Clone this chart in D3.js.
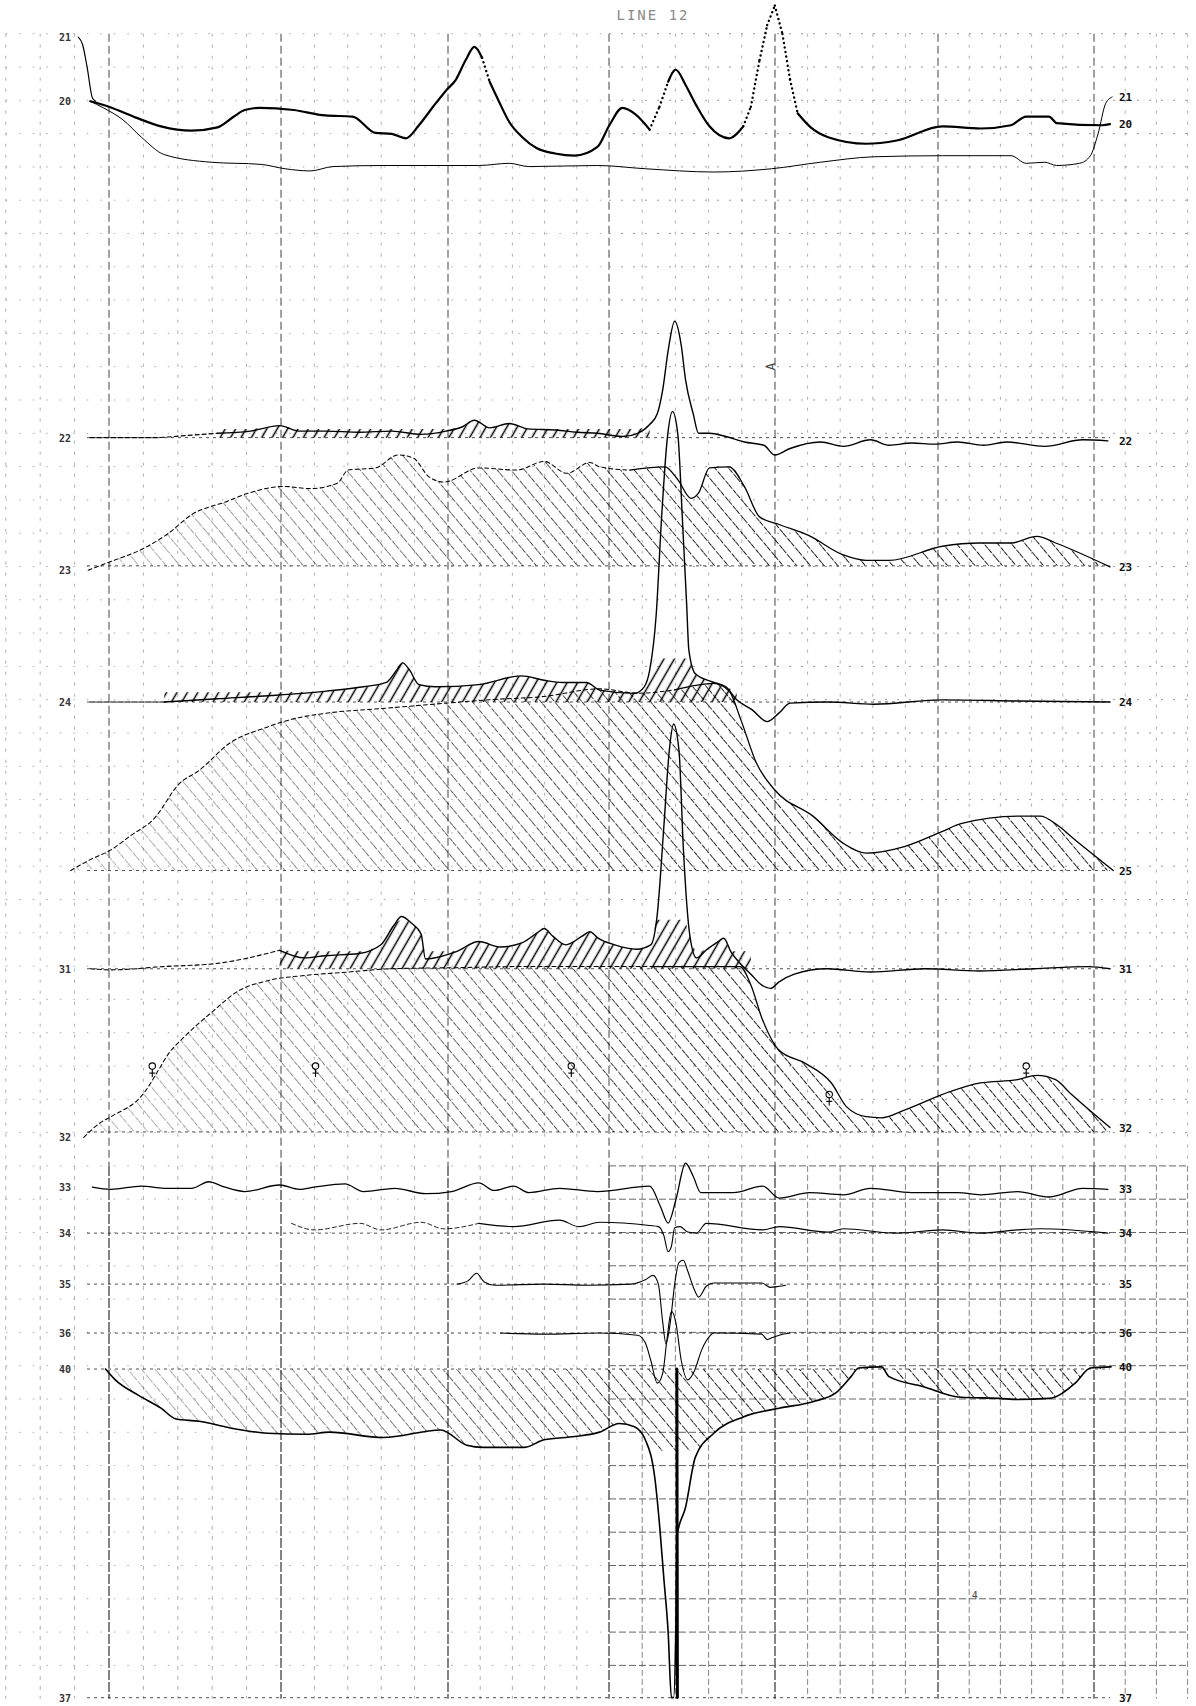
<!DOCTYPE html>
<html>
<head>
<meta charset="utf-8">
<script src="https://cdn.jsdelivr.net/npm/d3@7"></script>
<style>
body { margin: 0; background: #fff; }
svg { display: block; }
.lbl { font-family: "DejaVu Sans Mono", monospace; font-size: 11px; font-weight: bold; fill: #111; }
.lbl.l { fill: #333; font-size: 10px; }
.title { font-family: "DejaVu Sans Mono", monospace; font-size: 14px; fill: #8a8a8a; letter-spacing: 2px; }
.stray { font-family: "DejaVu Sans Mono", monospace; font-size: 10px; fill: #444; }
</style>
</head>
<body>
<svg id="chart"></svg>
<script>
const W = 1196, H = 1706;

// profiles, [fiducial, amplitude] pairs, amplitude measured from the trace level
const prof21 = [[72,59],[76,52],[80,32],[85,3],[88,0]];
const prof20 = [[83,0],[100,-5],[125,-15],[148,-23],[176,-27],[200,-24],[215,-14],[225,-8],[239,-6],[270,-8],[299,-13],[324,-14],[345,-29],[360,-30],[373,-34],[385,-22],[398,-5],[410,10],[419,20],[428,38],[436,50],[443,40],[450,18],[458,1],[468,-19],[480,-33],[493,-43],[510,-48],[528,-50],[549,-42],[560,-22],[572,-6],[584,-12],[597,-26],[606,-5],[614,18],[621,29],[630,15],[640,-4],[652,-23],[670,-34],[683,-23],[690,-5],[698,38],[705,70],[712,88],[719,62],[726,20],[733,-11],[745,-24],[761,-33],[796,-39],[824,-36],[866,-23],[901,-25],[929,-22],[943,-14],[964,-14],[971,-20],[1013,-22],[1020,-21]];
const prof20b = [[83,0],[95,-6],[113,-17],[130,-33],[151,-49],[194,-56],[240,-58],[262,-62],[285,-64],[306,-60],[352,-59],[440,-59],[468,-57],[486,-60],[549,-59],[593,-62],[656,-65],[709,-62],[754,-56],[803,-51],[866,-50],[929,-50],[943,-57],[960,-56],[971,-59],[992,-57],[1002,-50],[1009,-30],[1016,-2],[1022,4]];
const prof22 = [[83,0],[141,0],[172,2],[200,4],[230,6],[257,11],[275,6],[300,6],[330,5],[360,6],[387,3],[410,6],[425,10],[436,16],[450,9],[468,13],[485,8],[511,7],[530,5],[549,4],[572,1],[586,4],[597,12],[604,22],[609,44],[614,80],[620,107],[626,85],[630,53],[637,22],[642,4],[652,4],[667,1],[684,-4],[702,-7],[712,-16],[726,-10],[754,-4],[775,-8],[800,-2],[817,-7],[838,-5],[859,-6],[880,-4],[904,-7],[925,-4],[960,-8],[995,-2],[1018,-3]];
const prof23 = [[81,-4],[102,4],[130,15],[155,30],[176,47],[208,59],[229,67],[261,73],[285,71],[310,76],[320,88],[345,90],[366,102],[380,99],[394,82],[408,77],[440,90],[475,88],[500,96],[521,85],[542,95],[551,91],[579,88],[611,91],[623,79],[635,62],[642,67],[652,90],[670,91],[684,73],[698,45],[716,38],[743,28],[775,10],[796,5],[817,5],[866,18],[900,21],[929,21],[953,27],[970,21],[1020,-1]];
const prof24 = [[83,0],[151,0],[200,3],[250,6],[300,10],[334,14],[355,18],[365,30],[370,36],[376,30],[385,16],[400,14],[440,16],[479,24],[500,20],[517,18],[539,18],[551,11],[583,8],[592,14],[597,29],[603,80],[608,170],[613,240],[618,267],[623,245],[627,170],[631,90],[633,48],[639,26],[656,18],[667,14],[677,2],[691,-7],[705,-18],[716,-10],[726,-1],[761,0],[803,-2],[866,2],[935,1],[1020,0]];
const prof25 = [[65,0],[83,10],[102,19],[120,32],[141,47],[165,80],[183,92],[211,117],[246,132],[268,139],[303,145],[352,149],[400,153],[450,157],[500,160],[551,167],[586,163],[620,166],[656,172],[670,165],[681,138],[695,99],[712,74],[747,50],[775,25],[796,16],[831,22],[866,36],[883,43],[935,50],[956,50],[970,43],[988,28],[1023,0]];
const prof31 = [[83,0],[102,-1],[150,2],[200,5],[257,17],[280,10],[299,12],[330,14],[350,22],[362,40],[369,48],[378,42],[387,32],[391,9],[420,16],[440,25],[460,20],[480,24],[495,34],[500,37],[508,30],[520,22],[535,30],[542,34],[550,28],[565,22],[585,18],[598,22],[604,50],[610,130],[615,200],[619,225],[624,200],[628,110],[634,30],[640,10],[650,18],[660,25],[665,28],[672,15],[680,5],[690,-5],[700,-15],[708,-18],[716,-12],[730,-5],[760,0],[800,-3],[850,0],[900,-2],[950,0],[1000,2],[1020,0]];
const prof32 = [[77,-5],[93,9],[102,14],[134,38],[144,54],[155,72],[169,87],[197,112],[218,129],[246,139],[282,144],[320,147],[360,150],[420,151],[480,152],[540,152],[600,152],[650,152],[680,152],[690,135],[700,105],[716,75],[740,63],[764,45],[778,23],[796,14],[810,13],[831,20],[873,37],[901,45],[935,48],[953,52],[970,48],[984,35],[1020,4]];
const prof33 = [[85,4],[102,2],[130,5],[151,3],[176,3],[192,9],[204,5],[225,0],[257,6],[275,2],[289,4],[317,7],[334,0],[363,3],[391,-2],[415,0],[440,8],[454,1],[472,5],[486,-1],[514,3],[549,0],[597,5],[607,-14],[614,-29],[621,-8],[630,26],[637,14],[644,-1],[674,-1],[701,5],[716,-6],[744,-1],[775,-3],[800,3],[838,-1],[880,-1],[901,-3],[935,0],[964,-5],[995,3],[1018,2]];
const prof34 = [[268,9],[289,3],[331,9],[350,3],[387,10],[408,4],[440,9],[472,6],[514,12],[532,6],[551,10],[597,7],[605,6],[610,-2],[614,-17],[617,-12],[620,5],[625,6],[632,1],[640,0],[649,9],[701,3],[716,6],[761,1],[775,4],[824,0],[866,3],[901,0],[935,3],[956,4],[1018,0]];
const prof35 = [[420,0],[430,3],[438,10],[445,2],[455,-1],[500,0],[540,-1],[580,0],[593,4],[600,8],[605,0],[609,-35],[612,-55],[616,-35],[620,0],[624,20],[628,22],[632,12],[638,-5],[642,-12],[649,-2],[656,1],[700,1],[708,-3],[716,-2],[722,-1]];
const prof36 = [[460,0],[500,-1],[550,0],[586,-2],[593,-9],[598,-25],[604,-46],[609,-37],[613,-5],[617,20],[621,10],[626,-25],[632,-43],[638,-35],[645,-15],[652,-3],[656,0],[700,-1],[705,-6],[710,-4],[716,-2],[726,0]];
const prof40 = [[97,0],[106,-10],[127,-24],[148,-36],[162,-46],[183,-48],[211,-54],[246,-59],[282,-60],[303,-58],[352,-63],[405,-56],[429,-70],[444,-72],[482,-72],[500,-65],[528,-62],[551,-58],[569,-50],[583,-53],[593,-65],[602,-102],[606,-142],[610,-192],[614,-242],[617,-302],[619,-302],[621,-242],[622,-154],[630,-127],[639,-81],[656,-59],[683,-44],[716,-36],[747,-30],[768,-22],[782,-7],[789,1],[810,2],[817,-7],[848,-16],[883,-26],[918,-27],[935,-28],[964,-27],[988,-13],[1002,1],[1021,2]];
const pen40 = [[622,0],[622.5,-302]];

// trace levels in grid rows
const levels = { l20: 1.03, l22: 11.13, l23: 14.98, l24: 19.07, l25: 24.13, l31: 27.08, l32: 31.98,
  l33: 33.77, l34: 35.02, l35: 36.55, l36: 38.02, l40: 39.1, l37: 48.97 };

// station marks on 32: [fiducial, amplitude]
const markers32 = [[140,55],[290,55],[525,55],[762,29],[943,55]];
const titleText = "LINE 12";

// grid: major chart-paper columns, as scanned
const majorCols = [3, 8, 13, 18, 23, 28, 33];
const majorColPx = [109, 281, 448, 609, 775, 938, 1094];

const traces = [
  { data: prof20, level: levels.l20, width: 2.2, dotSteep: true, left: "20", right: "20" },
  { data: prof20b, level: levels.l20, width: 1, right: "21" },
  { data: prof21, level: levels.l20, width: 1.2, left: "21" },
  { data: prof22, level: levels.l22, width: 1.4, hatch: "fwd", band: [200, 600, 8], cap: [-99, 30], dashUntil: 190, left: "22", right: "22", base: true },
  { data: prof23, level: levels.l23, width: 1.3, hatch: "back", dashUntil: 560, left: "23", right: "23", base: true },
  { data: prof24, level: levels.l24, width: 1.4, hatch: "fwd", band: [150, 680, 9], cap: [-99, 40], dashUntil: 150, left: "24", right: "24", base: true },
  { data: prof25, level: levels.l25, width: 1.3, hatch: "back", dashUntil: 600, right: "25", base: true },
  { data: prof31, level: levels.l31, width: 1.4, hatch: "fwd", band: [240, 690, 16], cap: [-99, 45], dashUntil: 240, left: "31", right: "31", base: true },
  { data: prof32, level: levels.l32, width: 1.3, hatch: "back", dashUntil: 560, left: "32", right: "32", base: true },
  { data: prof33, level: levels.l33, width: 1.3, left: "33", right: "33" },
  { data: prof34, level: levels.l34, width: 1.1, dashUntil: 420, left: "34", right: "34", base: true },
  { data: prof35, level: levels.l35, width: 1.1, left: "35", right: "35", base: true },
  { data: prof36, level: levels.l36, width: 1.1, left: "36", right: "36", base: true },
  { data: prof40, level: levels.l40, width: 1.6, hatch: "back", cap: [-75, 999], left: "40", right: "40", base: true },
  { data: pen40, level: levels.l40, width: 3 },
  { data: [], level: levels.l37, left: "37", right: "37", base: true }
];

const svg = d3.select("#chart").attr("width", W).attr("height", H);
svg.append("rect").attr("width", W).attr("height", H).attr("fill", "#fff");

const x = d3.scaleLinear().domain([80, 1020]).range([87, 1110]);
const row = d3.scaleLinear().domain([0, 49]).range([67, 67 + 49 * 33.3]);
const amp = d3.scaleLinear().domain([0, 100]).range([0, 108.8]);
const gx = d3.scaleLinear().domain(majorCols).range(majorColPx);
const yOf = (lvl, v) => row(lvl) - amp(v);

// hatch patterns
const defs = svg.append("defs");
function hatch(id, angle, gap, sw, dash) {
  const p = defs.append("pattern").attr("id", id)
    .attr("patternUnits", "userSpaceOnUse")
    .attr("width", gap).attr("height", 12)
    .attr("patternTransform", `rotate(${angle})`);
  p.append("line").attr("x1", gap / 2).attr("y1", 0).attr("x2", gap / 2).attr("y2", 12)
    .attr("stroke", "#000").attr("stroke-width", sw).attr("stroke-dasharray", dash);
}
hatch("back", -40, 10.5, 0.9, "5,1.5");
hatch("fwd", 30, 9, 1.5, null);

const grad = defs.append("linearGradient").attr("id", "fadeGrad")
  .attr("gradientUnits", "userSpaceOnUse").attr("x1", x(80)).attr("x2", x(700)).attr("y1", 0).attr("y2", 0);
grad.append("stop").attr("offset", 0).attr("stop-color", "#fff").attr("stop-opacity", 0.3);
grad.append("stop").attr("offset", 1).attr("stop-color", "#fff").attr("stop-opacity", 1);
defs.append("mask").attr("id", "fade").attr("maskUnits", "userSpaceOnUse")
  .attr("x", 0).attr("y", 0).attr("width", W).attr("height", H)
  .append("rect").attr("width", W).attr("height", H).attr("fill", "url(#fadeGrad)");

// grid
const grid = svg.append("g");
const cols = d3.range(0, 37);
const isMajor = k => k % 5 === 3;
const splitRow = 33, splitCol = 18;
// upper part of the sheet, light
grid.selectAll("line.vu").data(cols).join("line")
  .attr("x1", d => gx(d)).attr("x2", d => gx(d))
  .attr("y1", row(-1)).attr("y2", row(splitRow))
  .attr("stroke", d => isMajor(d) ? "#555" : "#9a9a9a")
  .attr("stroke-width", d => isMajor(d) ? 1.1 : 0.8)
  .attr("stroke-dasharray", d => isMajor(d) ? "8,4" : "3,8");
// lower part, right side darker
grid.selectAll("line.vl").data(cols).join("line")
  .attr("x1", d => gx(d)).attr("x2", d => gx(d))
  .attr("y1", row(splitRow)).attr("y2", row(49))
  .attr("stroke", d => isMajor(d) ? "#333" : (d >= splitCol ? "#666" : "#999"))
  .attr("stroke-width", d => isMajor(d) ? 1.2 : 0.8)
  .attr("stroke-dasharray", d => isMajor(d) ? "10,2" : (d >= splitCol ? "6,3" : "4,6"));
const rows = d3.range(-1, 49);
grid.selectAll("line.hl").data(rows).join("line")
  .attr("x1", gx(0)).attr("x2", gx(splitCol))
  .attr("y1", d => row(d)).attr("y2", d => row(d))
  .attr("stroke", "#aaa").attr("stroke-width", 1)
  .attr("stroke-dasharray", "1.5,12");
grid.selectAll("line.hr").data(rows).join("line")
  .attr("x1", gx(splitCol)).attr("x2", gx(36))
  .attr("y1", d => row(d)).attr("y2", d => row(d))
  .attr("stroke", d => d >= splitRow ? "#555" : "#999")
  .attr("stroke-width", d => d >= splitRow ? 0.9 : 1)
  .attr("stroke-dasharray", d => d >= splitRow ? "7,3" : "2,10");

const plot = svg.append("g");

// hatch fills
traces.filter(t => t.hatch).forEach(t => {
  const inBand = d => !t.band || (d[0] >= t.band[0] && d[0] <= t.band[1]);
  const hv = d => {
    let v = d[1];
    if (t.band) v = Math.max(v, t.band[2]);
    if (t.cap) v = Math.min(Math.max(v, t.cap[0]), t.cap[1]);
    return v;
  };
  const area = d3.area().defined(inBand)
    .x(d => x(d[0])).y0(row(t.level)).y1(d => yOf(t.level, hv(d)))
    .curve(d3.curveMonotoneX);
  plot.append("path").datum(t.data).attr("d", area)
    .attr("fill", `url(#${t.hatch})`)
    .attr("mask", t.hatch === "back" ? "url(#fade)" : null);
});

// level lines
plot.selectAll("line.base").data(traces.filter(t => t.base)).join("line")
  .attr("x1", x(80)).attr("x2", x(1020))
  .attr("y1", t => row(t.level)).attr("y2", t => row(t.level))
  .attr("stroke", "#222").attr("stroke-width", 0.8).attr("stroke-dasharray", "3,4");

// traces
const line = d3.line().x(d => x(d[0])).curve(d3.curveMonotoneX);
const straight = lvl => d3.line().x(d => x(d[0])).y(d => yOf(lvl, d[1]));
traces.filter(t => t.data.length).forEach(t => {
  line.y(d => yOf(t.level, d[1]));
  const g = plot.append("g").attr("fill", "none").attr("stroke", "#000")
    .attr("stroke-width", t.width).attr("stroke-linejoin", "round").attr("stroke-linecap", "round");
  if (t.dotSteep) {
    // steep pen strokes come out as dots
    let run = [t.data[0]];
    for (let i = 1; i < t.data.length; i++) {
      const a = t.data[i - 1], b = t.data[i];
      const steep = Math.abs(amp(b[1] - a[1])) / Math.abs(x(b[0]) - x(a[0])) > 2.2;
      if (steep) {
        if (run.length > 1) g.append("path").datum(run).attr("d", line);
        g.append("path").datum([a, b]).attr("d", straight(t.level))
          .attr("stroke-dasharray", "0.1,4.5").attr("stroke-width", 2.4);
        run = [b];
      } else run.push(b);
    }
    if (run.length > 1) g.append("path").datum(run).attr("d", line);
  } else if (t.dashUntil) {
    const i = t.data.findIndex(d => d[0] >= t.dashUntil);
    g.append("path").datum(t.data.slice(0, i + 1)).attr("d", line)
      .attr("stroke-dasharray", "4,3").attr("stroke-width", t.width * 0.8);
    g.append("path").datum(t.data.slice(i)).attr("d", line);
  } else if (t.data.length === 2) {
    g.append("path").datum(t.data).attr("d", straight(t.level));
  } else {
    g.append("path").datum(t.data).attr("d", line);
  }
});

// station marks on 32
const mk = plot.selectAll("g.mk").data(markers32).join("g")
  .attr("transform", d => `translate(${x(d[0])},${yOf(levels.l32, d[1])})`)
  .attr("fill", "none").attr("stroke", "#000").attr("stroke-width", 1.1);
mk.append("circle").attr("cy", -6).attr("r", 3.2);
mk.append("line").attr("y1", -3).attr("y2", 5);
mk.append("line").attr("x1", -3).attr("x2", 3).attr("y1", 1).attr("y2", 1);

// labels
const lab = svg.append("g");
traces.filter(t => t.left).forEach(t => {
  const f = t.data[0];
  const y = f && f[0] <= 100 ? yOf(t.level, f[1]) : row(t.level);
  lab.append("text").attr("class", "lbl l").attr("x", x(80) - 16).attr("y", y + 4)
    .attr("text-anchor", "end").text(t.left);
});
traces.filter(t => t.right).forEach(t => {
  const l = t.data[t.data.length - 1];
  const y = l && l[0] >= 1000 ? yOf(t.level, l[1]) : row(t.level);
  lab.append("text").attr("class", "lbl").attr("x", x(1020) + 9).attr("y", y + 4).text(t.right);
});

svg.append("text").attr("class", "title").attr("x", 653).attr("y", 20)
  .attr("text-anchor", "middle").text(titleText);
svg.append("text").attr("class", "stray").style("font-size", "13px")
  .attr("transform", `translate(${x(712)},${row(9.0)}) rotate(-90)`)
  .attr("text-anchor", "middle").text("A");
svg.append("text").attr("class", "stray").attr("x", x(893)).attr("y", row(46)).text("4");
</script>
</body>
</html>
